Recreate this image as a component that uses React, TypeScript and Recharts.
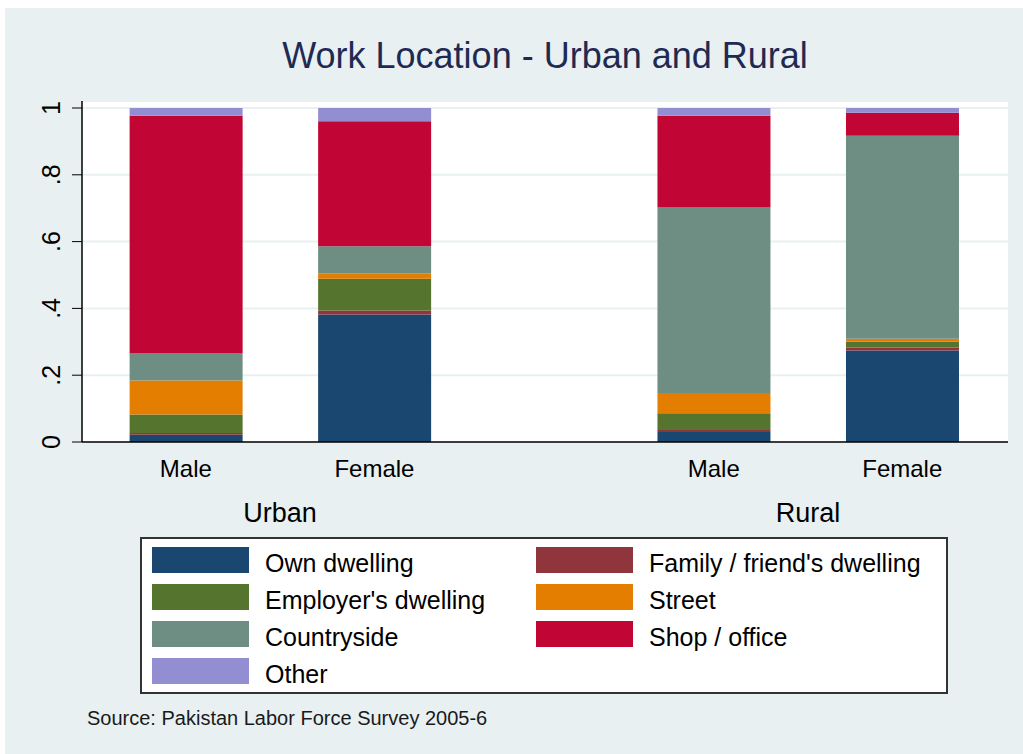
import { Bar, BarChart, CartesianGrid, XAxis, YAxis } from "recharts"

// rows: Urban Male, Urban Female, Rural Male, Rural Female
const groups = ["Urban", "Rural"]
const sexes = ["Male", "Female"]

const ownDwelling = [0.022, 0.382, 0.03, 0.274]
const familyDwelling = [0.005, 0.012, 0.006, 0.009]
const employerDwelling = [0.055, 0.095, 0.05, 0.017]
const street = [0.102, 0.016, 0.061, 0.009]
const countryside = [0.081, 0.081, 0.555, 0.608]
const shopOffice = [0.712, 0.374, 0.275, 0.069]
const other = [0.023, 0.04, 0.023, 0.014]

const yTicks = [0, 0.2, 0.4, 0.6, 0.8, 1]

const series = [
  { key: "own", name: "Own dwelling", values: ownDwelling, color: "#1a476f" },
  { key: "family", name: "Family / friend's dwelling", values: familyDwelling, color: "#90353b" },
  { key: "employer", name: "Employer's dwelling", values: employerDwelling, color: "#55752f" },
  { key: "street", name: "Street", values: street, color: "#e37e00" },
  { key: "countryside", name: "Countryside", values: countryside, color: "#6e8e84" },
  { key: "shop", name: "Shop / office", values: shopOffice, color: "#c10534" },
  { key: "other", name: "Other", values: other, color: "#938dd2" },
]

// layout: bars within a group one unit apart, groups 2.8 units apart
const GROUP_STRIDE = 2.8
const rows = groups.flatMap((g, gi) =>
  sexes.map((s, si) => ({ group: g, sex: s, pos: gi * GROUP_STRIDE + si }))
)
const data = rows.map((r, i) => {
  const row: Record<string, number | string> = { ...r }
  series.forEach((s) => (row[s.key] = s.values[i]))
  return row
})
const groupCenters = groups.map((_, gi) => gi * GROUP_STRIDE + (sexes.length - 1) / 2)
const xDomain = [-0.551, 4.361]

const FONT = "'Liberation Sans', Arial, sans-serif"

const fmtY = (v: number) => (v === 0 ? "0" : v === 1 ? "1" : v.toFixed(1).replace(/^0/, ""))

function YTick(props: any) {
  const { x, y, payload } = props
  return (
    <text
      x={x}
      y={y}
      transform={`rotate(-90 ${x} ${y})`}
      textAnchor="middle"
      fontSize={25}
      fontFamily={FONT}
      fill="#000"
    >
      {fmtY(payload.value)}
    </text>
  )
}

export default function App() {
  return (
    <div style={{ position: "absolute", left: 0, top: 0, width: 1023, height: 754, background: "#fff", fontFamily: FONT }}>
      <div style={{ position: "absolute", left: 5, top: 8, width: 1018, height: 746, background: "#e8f0f2" }} />
      <div
        style={{
          position: "absolute",
          left: 82,
          top: 38,
          width: 926,
          textAlign: "center",
          fontSize: 36,
          lineHeight: "36px",
          color: "#1e2a52",
        }}
      >
        Work Location - Urban and Rural
      </div>
      <div style={{ position: "absolute", left: 0, top: 0 }}>
        <BarChart width={1023} height={754} data={data} margin={{ top: 101, right: 15, left: 0, bottom: 217 }}>
          <CartesianGrid xAxisId="a" vertical={false} fill="#fff" stroke="#e8f0f2" strokeWidth={2} />
          <XAxis
            xAxisId="b"
            dataKey="pos"
            type="number"
            domain={xDomain}
            allowDataOverflow
            ticks={groupCenters}
            tickFormatter={(_v: number, i: number) => groups[i]}
            tickLine={false}
            tickSize={0}
            tickMargin={16}
            height={50}
            axisLine={false}
            tick={{ fontSize: 27, fill: "#000", fontFamily: FONT }}
            interval={0}
          />
          <XAxis
            xAxisId="a"
            dataKey="pos"
            type="number"
            domain={xDomain}
            allowDataOverflow
            ticks={rows.map((r) => r.pos)}
            tickFormatter={(_v: number, i: number) => rows[i].sex}
            tickLine={false}
            tickSize={0}
            tickMargin={18}
            height={45}
            axisLine={{ stroke: "#000", strokeWidth: 1.5 }}
            tick={{ fontSize: 24, fill: "#000", fontFamily: FONT }}
            interval={0}
          />
          <YAxis
            type="number"
            domain={[0, 1.021]}
            ticks={yTicks}
            width={82}
            tickSize={10}
            tickMargin={12}
            tickLine={{ stroke: "#000" }}
            axisLine={{ stroke: "#000", strokeWidth: 1.5 }}
            tick={<YTick />}
            interval={0}
          />
          {series.map((s) => (
            <Bar
              key={s.key}
              xAxisId="a"
              dataKey={s.key}
              name={s.name}
              stackId="a"
              fill={s.color}
              barSize={113}
              isAnimationActive={false}
            />
          ))}
        </BarChart>
      </div>
      <div
        style={{
          position: "absolute",
          left: 140,
          top: 537,
          width: 808,
          height: 157,
          boxSizing: "border-box",
          border: "2px solid #333",
          background: "#fff",
        }}
      >
        {series.map((s, i) => {
          const col = i % 2
          const row = Math.floor(i / 2)
          const top = 8 + row * 37
          const left = col === 0 ? 10 : 394
          return (
            <div key={s.key}>
              <div
                style={{ position: "absolute", left, top, width: 97, height: 26, background: s.color }}
              />
              <div
                style={{
                  position: "absolute",
                  left: left + 113,
                  top: top + 3,
                  fontSize: 25,
                  lineHeight: "26px",
                  whiteSpace: "nowrap",
                  color: "#000",
                }}
              >
                {s.name}
              </div>
            </div>
          )
        })}
      </div>
      <div style={{ position: "absolute", left: 87, top: 708, fontSize: 20, lineHeight: "20px", color: "#1a1a1a" }}>
        Source: Pakistan Labor Force Survey 2005-6
      </div>
    </div>
  )
}
